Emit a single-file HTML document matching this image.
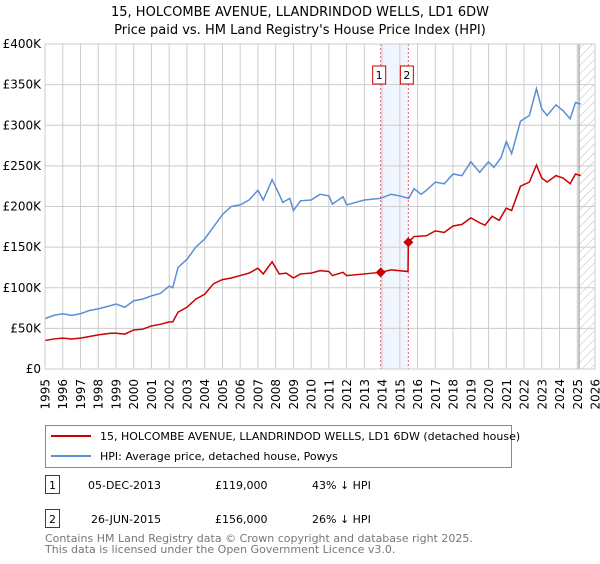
<!DOCTYPE html>
<html><head><meta charset="utf-8"><style>
body{margin:0;background:#fff;font-family:"DejaVu Sans","Liberation Sans",sans-serif;}
svg text{font-family:"DejaVu Sans","Liberation Sans",sans-serif;}
</style></head><body>
<svg id="c" width="600" height="560" xmlns="http://www.w3.org/2000/svg">
<defs><pattern id="hatch" patternUnits="userSpaceOnUse" width="6" height="6" patternTransform="rotate(45)"><line x1="0" y1="0" x2="0" y2="6" stroke="#bbb" stroke-width="1"/></pattern></defs>
<text x="300" y="16" text-anchor="middle" font-size="13">15, HOLCOMBE AVENUE, LLANDRINDOD WELLS, LD1 6DW</text>
<text x="300" y="34" text-anchor="middle" font-size="13">Price paid vs. HM Land Registry's House Price Index (HPI)</text>
<g id="grid"></g><g id="marks"></g><g id="axes"></g>
<rect x="45.5" y="425.5" width="466" height="42" fill="#fff" stroke="#888"/>
<line x1="51" y1="436" x2="91" y2="436" stroke="#cc0000" stroke-width="2"/>
<text x="100" y="440" font-size="11">15, HOLCOMBE AVENUE, LLANDRINDOD WELLS, LD1 6DW (detached house)</text>
<line x1="51" y1="456" x2="91" y2="456" stroke="#5b8fd4" stroke-width="2"/>
<text x="100" y="460" font-size="11">HPI: Average price, detached house, Powys</text>
<g font-size="11">
<rect x="45.5" y="475.5" width="14" height="18" fill="#fff" stroke="#cc0000"/>
<text x="52.5" y="489" text-anchor="middle">1</text>
<text x="88" y="489">05-DEC-2013</text><text x="215" y="489">£119,000</text><text x="312" y="489">43% ↓ HPI</text></g>
<g font-size="11">
<rect x="45.5" y="509.5" width="14" height="18" fill="#fff" stroke="#cc0000"/>
<text x="52.5" y="523" text-anchor="middle">2</text>
<text x="91" y="523">26-JUN-2015</text><text x="215" y="523">£156,000</text><text x="312" y="523">26% ↓ HPI</text></g>
<text x="45" y="542" font-size="11" fill="#777">Contains HM Land Registry data © Crown copyright and database right 2025.</text>
<text x="45" y="553" font-size="11" fill="#777">This data is licensed under the Open Government Licence v3.0.</text>
</svg>
<script>
const yTicks=[0,50000,100000,150000,200000,250000,300000,350000,400000];
const yTickLabels=["£0","£50K","£100K","£150K","£200K","£250K","£300K","£350K","£400K"];
const xYears=[1995,1996,1997,1998,1999,2000,2001,2002,2003,2004,2005,2006,2007,2008,2009,2010,2011,2012,2013,2014,2015,2016,2017,2018,2019,2020,2021,2022,2023,2024,2025,2026];
const hpiT=[1995,1995.5,1996,1996.5,1997,1997.5,1998,1998.7,1999,1999.5,2000,2000.5,2001,2001.5,2002,2002.2,2002.5,2003,2003.5,2004,2004.5,2005,2005.5,2006,2006.5,2007,2007.3,2007.8,2008.2,2008.4,2008.8,2009,2009.4,2010,2010.5,2011,2011.2,2011.8,2012,2012.5,2013,2013.9,2014.5,2015,2015.5,2015.8,2016.2,2016.5,2017,2017.5,2018,2018.5,2019,2019.5,2020,2020.3,2020.7,2021,2021.3,2021.8,2022.3,2022.7,2023,2023.3,2023.8,2024.2,2024.6,2024.9,2025.2];
const hpiV=[62,66,68,66,68,72,74,78,80,76,84,86,90,93,102,100,125,135,150,160,175,190,200,202,208,220,208,233,215,205,210,195,207,208,215,213,203,212,202,205,208,210,215,213,210,222,215,220,230,228,240,238,255,242,255,248,260,280,265,305,312,345,320,312,325,318,308,328,326];
const ppT=[1995,1995.5,1996,1996.5,1997,1997.5,1998,1998.7,1999,1999.5,2000,2000.5,2001,2001.5,2002,2002.2,2002.5,2003,2003.5,2004,2004.5,2005,2005.5,2006,2006.5,2007,2007.3,2007.8,2008.2,2008.6,2009,2009.4,2010,2010.5,2011,2011.2,2011.8,2012,2013,2013.92,2014.5,2015.46,2015.48,2015.8,2016.5,2017,2017.5,2018,2018.5,2019,2019.5,2019.8,2020.2,2020.6,2021,2021.3,2021.8,2022.3,2022.7,2023,2023.3,2023.8,2024.2,2024.6,2024.9,2025.2];
const ppV=[35,37,38,37,38,40,42,44,44,43,48,49,53,55,58,58,70,76,86,92,105,110,112,115,118,124,117,132,117,118,112,117,118,121,120,115,119,115,117,119,122,120,156,163,164,170,168,176,178,186,180,177,188,183,198,195,225,230,251,235,230,238,235,228,240,238];
const saleT=[2013.92,2015.48];const saleV=[119,156];const saleLabels=["1","2"];
const X=t=>45+(t-1995)*(550/31);
const Y=v=>369-v/400000*325;
const NS="http://www.w3.org/2000/svg";
function mk(tag,attrs,parent){const e=document.createElementNS(NS,tag);for(const k in attrs)e.setAttribute(k,attrs[k]);document.getElementById(parent).appendChild(e);return e;}
let r=mk('rect',{x:X(saleT[0]),y:44,width:X(saleT[1])-X(saleT[0]),height:325,fill:'#eef3fc',opacity:0.8},'grid');


let h=mk('rect',{x:X(2025.1),y:44,width:X(2026)-X(2025.1),height:325,fill:'url(#hatch)'},'grid');


yTicks.forEach((v,i)=>{
 let l=mk('line',{x1:45,x2:595,y1:Y(v),y2:Y(v),stroke:'#ccc'},'grid');
 
 
 let t=mk('text',{x:41,y:Y(v)+4,'text-anchor':'end','font-size':12},'axes');t.textContent=yTickLabels[i];
 
 
});
xYears.forEach(yr=>{
 let l=mk('line',{x1:X(yr),x2:X(yr),y1:44,y2:369,stroke:'#ccc'},'grid');
 
 
 const tx=X(yr)+4.5,ty=379;
 let t=mk('text',{x:tx,y:ty,'text-anchor':'end','font-size':12,transform:`rotate(-90 ${tx} ${ty})`},'axes');t.textContent=yr;
 
 
});
let ln=mk('line',{x1:X(2025.1),x2:X(2025.1),y1:44,y2:369,stroke:'#888'},'grid');


saleT.forEach((t,i)=>{
 let d=mk('line',{x1:X(t),x2:X(t),y1:44,y2:369,stroke:'#e06060','stroke-dasharray':'2,2'},'grid');
 
 
 let b=mk('rect',{x:X(t)-8,y:66,width:13,height:18,fill:'#fff',stroke:'#cc0000'},'axes');
 
 
 let tx=mk('text',{x:X(t)-1.5,y:79,'text-anchor':'middle','font-size':11},'axes');tx.textContent=saleLabels[i];
 
 
});
let p1=mk('polyline',{points:hpiT.map((t,i)=>X(t)+','+Y(hpiV[i]*1000)).join(' '),fill:'none',stroke:'#5b8fd4','stroke-width':1.5},'marks');


let p2=mk('polyline',{points:ppT.map((t,i)=>X(t)+','+Y(ppV[i]*1000)).join(' '),fill:'none',stroke:'#cc0000','stroke-width':1.5},'marks');


saleT.forEach((t,i)=>{
 const cx=X(t),cy=Y(saleV[i]*1000);
 let m=mk('polygon',{points:`${cx},${cy-5} ${cx+5},${cy} ${cx},${cy+5} ${cx-5},${cy}`,fill:'#cc0000'},'marks');
 
 
});
let ax=mk('rect',{x:45,y:44,width:550,height:325,fill:'none',stroke:'#ccc'},'axes');


</script>
</body></html>
